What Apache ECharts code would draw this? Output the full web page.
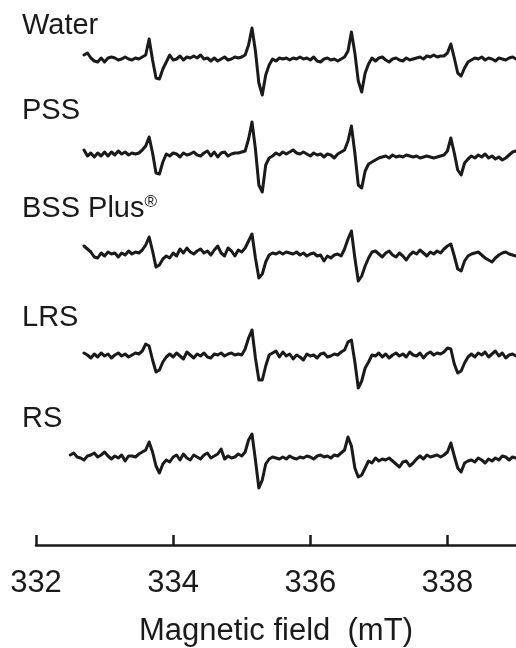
<!DOCTYPE html>
<html><head><meta charset="utf-8">
<script src="https://cdn.jsdelivr.net/npm/echarts@6/dist/echarts.min.js"></script>
<style>html,body{margin:0;padding:0;background:#fff}#c{width:516px;height:648px}</style>
</head><body><div id="c"></div>
<script>
// Magnetic field sample positions (mT)
const field = [
332.50,332.55,332.60,332.65,332.70,332.75,332.80,332.85,332.90,332.95,
333.00,333.05,333.10,333.15,333.20,333.25,333.30,333.35,333.40,333.45,
333.50,333.55,333.60,333.65,333.70,333.75,333.80,333.85,333.90,333.95,
334.00,334.05,334.10,334.15,334.20,334.25,334.30,334.35,334.40,334.45,
334.50,334.55,334.60,334.65,334.70,334.75,334.80,334.85,334.90,334.95,
335.00,335.05,335.10,335.15,335.20,335.25,335.30,335.35,335.40,335.45,
335.50,335.55,335.60,335.65,335.70,335.75,335.80,335.85,335.90,335.95,
336.00,336.05,336.10,336.15,336.20,336.25,336.30,336.35,336.40,336.45,
336.50,336.55,336.60,336.65,336.70,336.75,336.80,336.85,336.90,336.95,
337.00,337.05,337.10,337.15,337.20,337.25,337.30,337.35,337.40,337.45,
337.50,337.55,337.60,337.65,337.70,337.75,337.80,337.85,337.90,337.95,
338.00,338.05,338.10,338.15,338.20,338.25,338.30,338.35,338.40,338.45,
338.50,338.55,338.60,338.65,338.70,338.75,338.80,338.85,338.90,338.95,
339.00];

// ESR signal intensities (arbitrary units)
const water = [
null,null,null,null,4,6,1,-2,-3,1,
-3,1,2,1,-1,0,2,0,-1,1,
0,2,4,20,-1,-19,-20,-10,-3,4,
-1,0,3,-1,2,1,3,1,4,0,
1,-2,1,-2,0,2,-1,0,2,1,
2,4,14,31,8,-24,-36,-16,-6,0,
-2,1,0,1,-1,1,0,2,0,1,
-1,2,-2,-3,0,1,-1,0,-2,0,
2,8,27,6,-22,-33,-14,-5,1,-2,
1,2,-1,-3,0,1,-1,-2,1,-1,
0,1,2,0,3,2,4,2,3,3,
6,15,1,-14,-17,-9,-3,-1,1,0,
2,-1,1,0,-2,1,0,-1,1,2,
0];
const pss = [
null,null,null,null,5,-1,2,-2,2,-1,
3,-1,3,0,4,1,3,0,2,1,
2,5,9,18,2,-18,-19,-7,1,-1,
2,1,-2,2,0,1,3,0,-1,2,
4,-1,3,-2,2,3,-1,1,2,2,
3,4,16,33,6,-30,-37,-10,-3,-1,
2,0,3,1,3,5,2,1,3,1,
-1,2,0,1,-2,1,0,-3,1,3,
5,14,29,2,-30,-33,-16,-9,-7,-5,
-3,-2,-1,-3,0,-2,-1,-2,0,-1,
-2,-1,-3,-2,-1,-2,-3,-2,-1,0,
4,17,2,-15,-20,-8,-4,-1,-3,0,
-2,1,-3,-1,-4,-2,-5,-3,0,3,
4];
const bss = [
null,null,null,null,8,5,2,-3,-4,1,
-2,2,0,1,-3,1,-1,3,0,2,
1,4,9,17,3,-13,-11,-5,-2,-4,
1,-2,5,1,6,2,0,3,5,1,
3,-1,4,8,1,-2,6,3,-2,4,
2,6,13,20,-4,-24,-20,-8,-1,1,
0,2,0,2,1,0,2,-1,1,-2,
0,1,-2,-1,-7,-2,-4,-1,0,-2,
5,15,23,-4,-27,-22,-12,-4,2,3,
0,-3,1,3,-1,-3,1,-2,-6,-1,
2,0,4,1,-2,2,0,3,1,5,
8,10,-2,-15,-17,-7,-2,0,1,2,
-1,-4,-6,-8,-4,-1,1,2,0,-1,
-2];
const lrs = [
null,null,null,null,3,1,-2,2,-1,3,
0,2,-2,1,3,0,2,-1,1,3,
2,5,12,10,-4,-16,-14,-6,-1,2,
-1,3,0,-3,4,1,-2,2,0,3,
-1,-2,2,1,3,0,2,3,1,2,
1,7,18,26,-2,-24,-24,-10,1,3,
5,-1,4,0,2,-3,1,-1,-4,2,
0,1,-2,2,3,-1,0,2,1,4,
6,14,16,-6,-32,-25,-12,-6,1,0,
3,-1,2,-2,1,3,0,2,-1,4,
1,0,3,-2,2,4,1,3,2,4,
8,7,-8,-17,-15,-7,-1,2,-1,3,
1,4,-1,2,5,0,3,-2,1,2,
0];
const rs = [
3,5,1,0,-2,2,3,5,1,3,
6,2,-1,2,0,3,-3,2,2,1,
4,6,8,16,6,-8,-15,-6,-2,-4,
1,3,-2,4,0,-2,3,1,-1,3,
5,0,2,4,9,-1,2,0,1,4,
2,6,18,24,-2,-30,-22,-6,-1,1,
0,-1,1,-1,2,0,-1,1,0,2,
1,-1,2,3,1,2,0,3,2,5,
8,21,12,-10,-19,-17,-10,-3,-5,0,
-3,-1,-2,0,-3,-6,-9,-4,-3,-8,
-5,-1,2,-1,3,1,2,3,1,3,
6,15,2,-10,-14,-5,-3,-2,-4,0,
-2,-5,-1,-3,0,-2,2,1,-2,1,
0];

const traceNames = ['Water', 'PSS', 'BSS Plus', 'LRS', 'RS'];
const traces = [water, pss, bss, lrs, rs];
const xTicks = [332, 334, 336, 338];
const xMin = 332, xMax = 339;

// layout (pixels)
const baselines = [59, 155, 254, 356, 458];
const labelTops = [11, 96, 194, 303, 404];
const plotLeft = 36, plotWidth = 481.6;
const ink = '#1a1a1a';
const FONT = '"Liberation Sans", Arial, Helvetica, sans-serif';

const grid = [], xAxis = [], yAxis = [], series = [], graphic = [];
traces.forEach((vals, k) => {
  grid.push({left: plotLeft, width: plotWidth, top: baselines[k] - 50, height: 100});
  xAxis.push({type: 'value', gridIndex: k, min: xMin, max: xMax, show: false});
  yAxis.push({type: 'value', gridIndex: k, min: -50, max: 50, show: false});
  const data = [];
  vals.forEach((v, i) => { if (v !== null) data.push([field[i], v]); });
  series.push({
    type: 'line', xAxisIndex: k, yAxisIndex: k, data: data,
    showSymbol: false, silent: true, clip: false,
    lineStyle: {color: ink, width: 3, join: 'round', cap: 'round'}
  });
  const isBss = traceNames[k] === 'BSS Plus';
  graphic.push({
    type: 'text', left: 22, top: labelTops[k],
    style: isBss ? {
      text: '{a|BSS Plus}{b|®}',
      rich: {
        a: {fontSize: 29, fontFamily: FONT, fill: ink, color: ink},
        b: {fontSize: 17, fontFamily: FONT, fill: ink, color: ink, verticalAlign: 'top'}
      },
      fill: ink
    } : {text: traceNames[k], fontSize: 29, fontFamily: FONT, fill: ink}
  });
});

// axis grid
grid.push({left: plotLeft, width: plotWidth, top: 500, height: 46});
xAxis.push({
  type: 'value', gridIndex: 5, min: xMin, max: xMax, interval: 2,
  axisLine: {show: true, onZero: false, lineStyle: {color: ink, width: 2.5}},
  axisTick: {show: true, inside: true, length: 10, lineStyle: {color: ink, width: 2.5}},
  splitLine: {show: false},
  axisLabel: {
    fontSize: 31, fontFamily: FONT, color: ink, margin: 23,
    showMaxLabel: false,
    formatter: v => (xTicks.indexOf(v) >= 0 ? String(v) : '')
  },
  name: 'Magnetic field  (mT)', nameLocation: 'middle', nameGap: 71,
  nameTextStyle: {fontSize: 31, fontFamily: FONT, color: ink}
});
yAxis.push({type: 'value', gridIndex: 5, min: 0, max: 1, show: false});

const chart = echarts.init(document.getElementById('c'), null, {renderer: 'canvas'});
chart.setOption({
  animation: false,
  backgroundColor: '#fff',
  grid, xAxis, yAxis, series, graphic
});
</script>
</body></html>
